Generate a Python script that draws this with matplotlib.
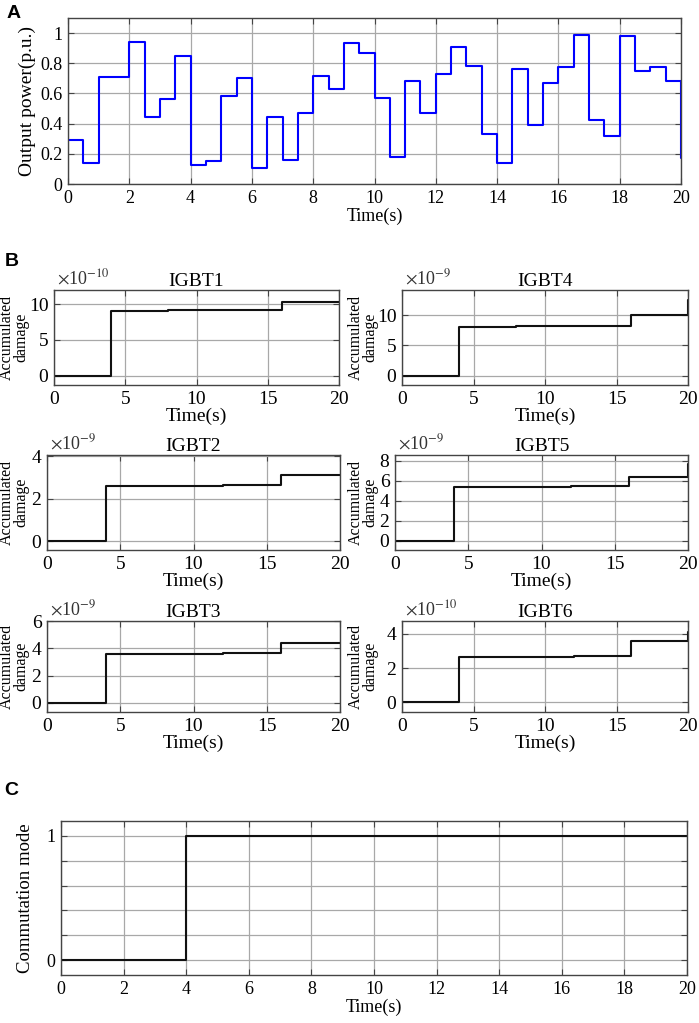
import matplotlib
matplotlib.use("Agg")
import matplotlib.pyplot as plt
import numpy as np

plt.rcParams["font.family"] = ["Liberation Serif", "DejaVu Serif"]
plt.rcParams["mathtext.fontset"] = "stix"

# panel A: output power, one value every 0.5 s
step_len = 0.5
power = [0.29, 0.14, 0.71, 0.71, 0.94, 0.445, 0.56, 0.85, 0.125, 0.15,
         0.58, 0.70, 0.105, 0.445, 0.16, 0.47, 0.715, 0.63, 0.935, 0.865,
         0.57, 0.18, 0.685, 0.47, 0.73, 0.91, 0.78, 0.33, 0.14, 0.76,
         0.39, 0.67, 0.775, 0.985, 0.425, 0.32, 0.98, 0.75, 0.775, 0.685,
         0.17]

# panel B: accumulated damage, updated every 4 s
dmg_times = [0, 4, 8, 12, 16, 20]
igbt_names = ["IGBT1", "IGBT4", "IGBT2", "IGBT5", "IGBT3", "IGBT6"]
igbt_exp = [-10, -9, -9, -9, -9, -10]
igbt_vals = [
    [0, 9.1, 9.2, 9.2, 10.3, 10.3],
    [0, 8.0, 8.15, 8.15, 10.0, 12.6],
    [0, 2.62, 2.62, 2.66, 3.1, 3.1],
    [0, 5.4, 5.4, 5.5, 6.4, 7.67],
    [0, 3.56, 3.56, 3.65, 4.42, 4.42],
    [0, 2.67, 2.67, 2.73, 3.61, 4.14],
]
igbt_ylim = [(-1.3, 12), (-1.55, 14.2), (-0.42, 4.06),
             (-0.9, 8.55), (-0.69, 6.02), (-0.57, 4.76)]
igbt_yticks = [[0, 5, 10], [0, 5, 10], [0, 2, 4],
               [0, 2, 4, 6, 8], [0, 2, 4, 6], [0, 2, 4]]

# panel C: commutation mode
mode_times = [0, 4, 20]
mode_vals = [0, 1, 1]

W, H = 699, 1023
fig = plt.figure(figsize=(W / 100, H / 100), dpi=100)


def add_ax(left, top, right, bottom):
    return fig.add_axes([left / W, 1 - bottom / H, (right - left) / W, (bottom - top) / H])


def style(ax, fs=13):
    ax.grid(True, color="#a8a8a8", linewidth=0.9)
    ax.set_axisbelow(True)
    ax.tick_params(direction="in", top=True, right=True, labelsize=fs,
                   length=4, width=0.8, color="#444444", pad=4)
    for s in ax.spines.values():
        s.set_color("#444444")
        s.set_linewidth(1.0)


# ---- A
axA = add_ax(68, 18, 681, 184)
tA = np.arange(len(power)) * step_len
axA.plot(np.append(tA, tA[-1] + step_len), power + [power[-1]],
         drawstyle="steps-post", color="#0000ff", linewidth=1.5)
axA.set_xlim(0, 20)
axA.set_ylim(0, 1.1)
axA.set_xticks(np.arange(0, 21, 2))
axA.set_yticks([0, 0.2, 0.4, 0.6, 0.8, 1.0])
axA.set_yticklabels(["0", "0.2", "0.4", "0.6", "0.8", "1"])
style(axA)
axA.set_xlabel("Time(s)", fontsize=13, labelpad=1)
axA.set_ylabel("Output power(p.u.)", fontsize=14, labelpad=3)

# ---- B
boxes = [(54, 290, 339, 385), (402, 290, 688, 385),
         (47, 455, 340, 550), (395, 455, 688, 550),
         (47, 621, 340, 712), (402, 621, 688, 712)]
for i, box in enumerate(boxes):
    ax = add_ax(*box)
    vals = igbt_vals[i]
    ax.plot(dmg_times + [21], vals + [vals[-1]], drawstyle="steps-post",
            color="#111111", linewidth=1.5)
    ax.set_xlim(0, 20)
    ax.set_ylim(*igbt_ylim[i])
    ax.set_xticks([0, 5, 10, 15, 20])
    ax.set_yticks(igbt_yticks[i])
    style(ax, 14)
    ax.set_title(igbt_names[i], fontsize=14, pad=3)
    ax.text(0.01, 1.02, r"$\times$10$^{%d}$" % igbt_exp[i], transform=ax.transAxes,
            fontsize=13, va="bottom", ha="left", color="#333333")
    ax.set_xlabel("Time(s)", fontsize=14, labelpad=0)
    lx = 14 if i % 2 == 0 else 363
    fig.text(lx / W, 1 - (box[1] + box[3]) / 2 / H, "Accumulated\ndamage",
             rotation=90, ha="center", va="center", fontsize=11.5,
             linespacing=0.85, multialignment="center")

# ---- C
axC = add_ax(61, 821, 687, 975)
axC.plot(mode_times + [21], mode_vals + [mode_vals[-1]], drawstyle="steps-post",
         color="#111111", linewidth=1.5)
axC.set_xlim(0, 20)
axC.set_ylim(-0.12, 1.12)
axC.set_xticks(np.arange(0, 21, 2))
axC.set_yticks([0, 0.2, 0.4, 0.6, 0.8, 1.0])
axC.set_yticklabels(["0", "", "", "", "", "1"])
style(axC)
axC.set_xlabel("Time(s)", fontsize=13, labelpad=1)
axC.set_ylabel("Commutation mode", fontsize=13.5, labelpad=9)

for lab, x, y in [("A", 7, 18), ("B", 5, 266), ("C", 4, 795)]:
    fig.text(x / W, 1 - y / H, lab, fontsize=14, fontweight="bold",
             family="Liberation Sans", va="baseline", ha="left")

fig.savefig("out.png", dpi=100)
